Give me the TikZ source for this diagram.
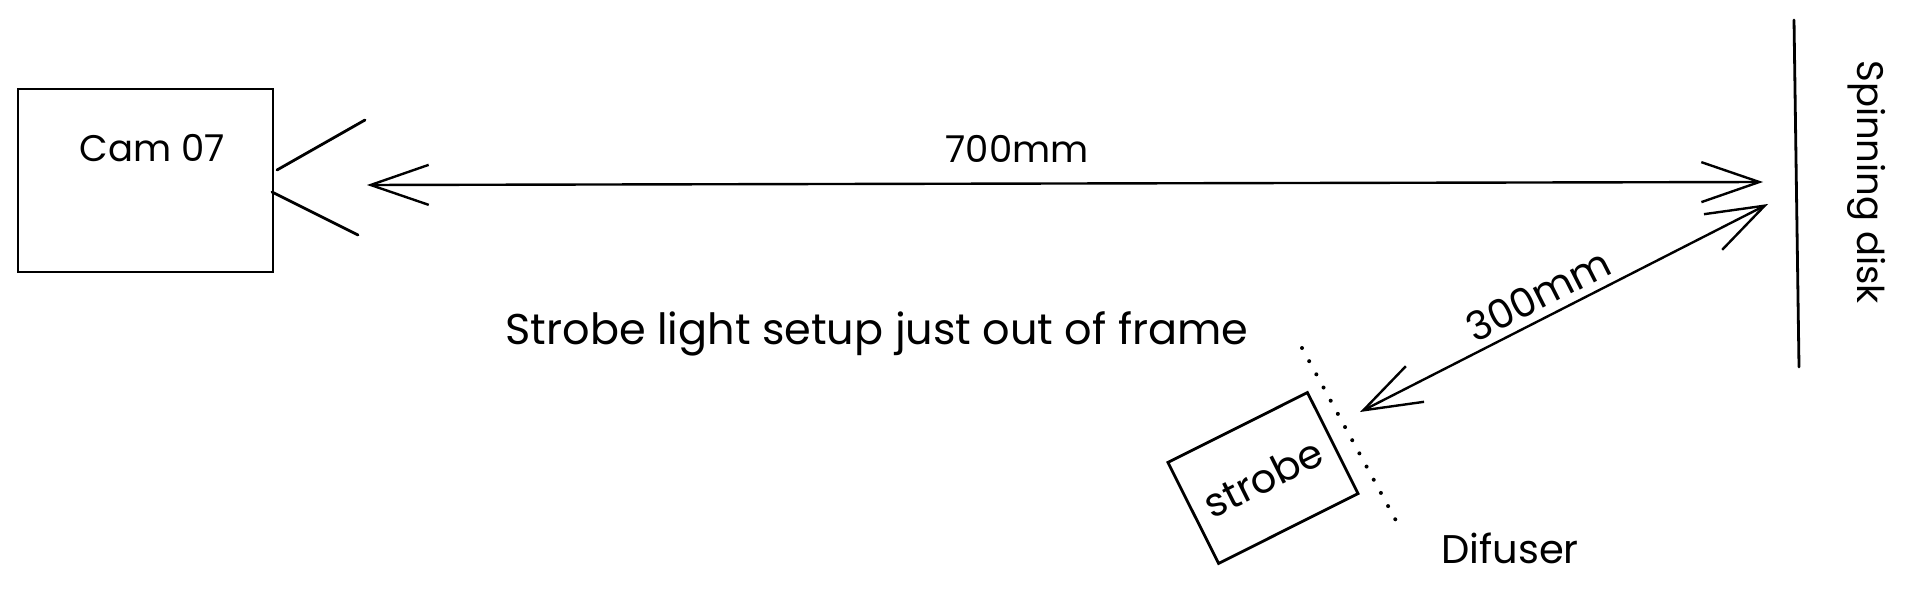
\documentclass[tikz,border=0pt]{standalone}
\usepackage{fontspec}
\setmainfont{Poppins}
\usetikzlibrary{positioning, arrows.meta}

\begin{document}
\begin{tikzpicture}[x=0.5pt, y=-0.5pt,
  box/.style={draw=black, line width=1.4pt, inner sep=0pt},
  stroke/.style={draw=black, line width=1.4pt, line cap=round},
  lbl/.style={font=\fontsize{20}{24}\selectfont, inner sep=0pt},
  small/.style={lbl, font=\fontsize{18.5}{22}\selectfont},
  dim/.style={draw=black, line width=1.2pt, line cap=round,
    {Straight Barb[length=29pt, width=20pt]}-{Straight Barb[length=29pt, width=20pt]}},
  diff/.style={draw=black, line width=2pt, line cap=round, dash pattern=on 0pt off 7.5pt}
]
  \useasboundingbox (0,0) rectangle (1917,593);

  % camera
  \node[box, minimum width=127.5pt, minimum height=91.5pt] (cam) at (145.5,180.5) {};
  \node[small] (camlbl) at (152,148) {Cam 07};
  \coordinate (lensa) at (277,170);
  \coordinate (lensb) at (365,120);
  \coordinate (lensc) at (272,192);
  \coordinate (lensd) at (358,235);
  \draw[stroke] (lensa) -- (lensb);
  \draw[stroke] (lensc) -- (lensd);

  % spinning disk
  \coordinate (disktop) at (1794,20);
  \coordinate (diskbot) at (1799,367);
  \draw[stroke] (disktop) -- (diskbot);
  \node[small, rotate=-90] (disklbl) at (1867,182) {Spinning disk};

  % camera to disk
  \coordinate (far) at (367,185);
  \coordinate (farend) at (1763,182);
  \draw[dim] (far) -- (farend);
  \node[small] (farlbl) at (1017,149) {700mm};

  % strobe with diffuser
  \node[box, lbl, rotate=26.6, minimum width=78pt, minimum height=56.5pt] (strobe) at (1263,478) {strobe};
  \coordinate (difftop) at (1302,348);
  \coordinate (diffbot) at (1400,528);
  \draw[diff] (difftop) -- (diffbot);
  \node[lbl] (difflbl) at (1510,548) {Difuser};

  % strobe to disk
  \coordinate (near) at (1360,412);
  \coordinate (nearend) at (1768,204);
  \draw[dim] (nearend) -- (near);
  \node[lbl, rotate=27] (nearlbl) at (1538,295) {300mm};

  \node[lbl, font=\fontsize{21.5}{26}\selectfont] (note) at (877,334) {Strobe light setup just out of frame};
\end{tikzpicture}
\end{document}
